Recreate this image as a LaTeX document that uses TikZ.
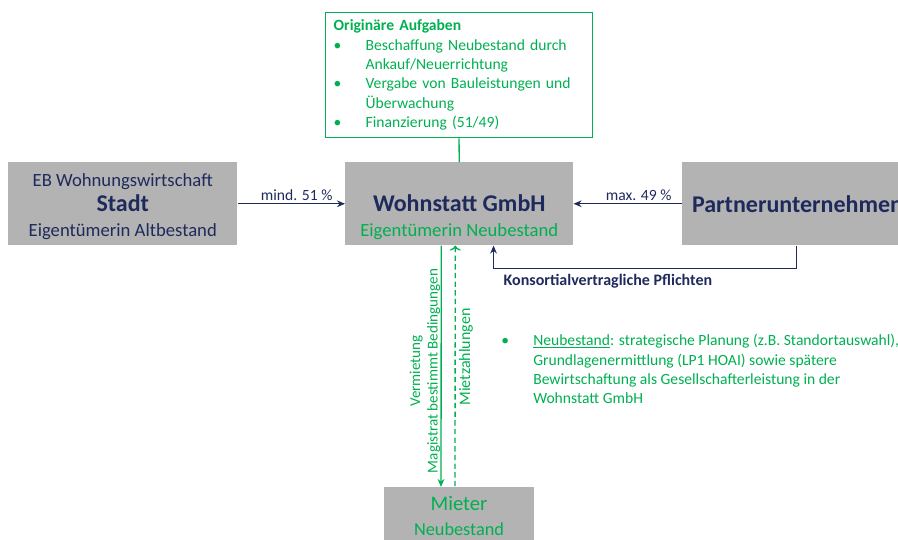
\documentclass[tikz,border=0pt]{standalone}
\usepackage{fontspec}
\setmainfont{Carlito}
\usetikzlibrary{arrows.meta, positioning, calc}
\definecolor{navy}{HTML}{1F2A5C}
\definecolor{ogreen}{HTML}{00B050}
\definecolor{boxgray}{HTML}{B3B3B3}
\newcommand{\itm}{\makebox[24pt][l]{\textbullet}}

\begin{document}
\begin{tikzpicture}[
    x=0.75pt, y=-0.75pt,
    box/.style={rectangle, fill=boxgray, inner sep=0pt, minimum height=62.25pt},
    subtext/.style={font=\fontsize{14}{18.75}\selectfont, align=center},
    notetext/.style={font=\fontsize{11.7}{14.5}\selectfont, text=ogreen, align=left},
    flowlabel/.style={font=\fontsize{11.7}{14}\selectfont, text=navy},
    navyarrow/.style={draw=navy, line width=1pt, -{Stealth[length=6pt, width=5pt]}},
    greenarrow/.style={draw=ogreen, line width=1pt, -{Stealth[length=6pt, width=5pt]}}
]
    \clip (0,0) rectangle (898,539);

    % --- Boxes ---
    \node[box, anchor=north west, minimum width=171.75pt] (stadt) at (8,162) {};
    \node[box, anchor=north west, minimum width=171pt] (wohnstatt) at (345,162) {};
    \node[box, anchor=north west, minimum width=171pt] (partner) at (682,162) {};
    \node[box, anchor=north, minimum width=112.5pt] (mieter) at (459,487) {};

    % --- Box Texts ---
    \node[subtext, text=navy] (stadttext) at ([yshift=-1.8pt]stadt.center)
        {EB Wohnungswirtschaft\\{\fontsize{18}{18.75}\selectfont\bfseries Stadt}\\Eigentümerin Altbestand};
    \node[subtext, text=navy] (wohnstatttext) at ([yshift=-10pt]wohnstatt.center)
        {{\fontsize{18}{18.75}\selectfont\bfseries Wohnstatt GmbH}\\\textcolor{ogreen}{Eigentümerin Neubestand}};
    \node[anchor=west, text=navy, font=\fontsize{18}{20}\selectfont\bfseries] (partnertext)
        at ([xshift=4pt]partner.west) {Partnerunternehmen};
    \node[subtext, text=ogreen] (mietertext) at ([yshift=-21.8pt]mieter.north)
        {{\fontsize{15.5}{17}\selectfont Mieter}\\{\fontsize{13.7}{17}\selectfont Neubestand}};

    % --- Originaere Aufgaben ---
    \node[notetext, draw=ogreen, line width=1pt, anchor=north west, inner xsep=6pt,
        text width=188pt, minimum height=93.75pt] (aufgaben) at (325,12)
        {\textbf{Originäre Aufgaben}\\
         \itm Beschaffung Neubestand durch\\
         \hspace*{24pt}Ankauf/Neuerrichtung\\
         \itm Vergabe von Bauleistungen und\\
         \hspace*{24pt}Überwachung\\
         \itm Finanzierung (51/49)};
    \draw[ogreen, line width=1pt] (aufgaben.south) -- (wohnstatt.north);

    % --- Shares ---
    \draw[navyarrow] (stadt) -- node[flowlabel, pos=0.55, above, inner sep=1.5pt] {mind. 51 \%} (wohnstatt);
    \draw[navyarrow] (partner) -- node[flowlabel, pos=0.4, above, inner sep=1.5pt] {max. 49 \%} (wohnstatt);
    \draw[navyarrow] (partner.south) -- ++(0,23) -| ($(wohnstatt.south west)!0.65!(wohnstatt.south east)$);
    \node[flowlabel, font=\fontsize{12}{14}\selectfont\bfseries, anchor=west] (pflichten) at (499,281)
        {Konsortialvertragliche Pflichten};

    % --- Mieter ---
    \draw[greenarrow] ([xshift=-13.5pt]wohnstatt.south) -- ([xshift=-13.5pt]mieter.north);
    \draw[greenarrow, dash pattern=on 4pt off 2.5pt, <-] ([xshift=-3pt]wohnstatt.south) -- ([xshift=-3pt]mieter.north);
    \node[rotate=90, align=center, text=ogreen, font=\fontsize{11.3}{13.2}\selectfont] (vermietung)
        at (425,371) {Vermietung\\Magistrat bestimmt Bedingungen};
    \node[rotate=90, text=ogreen, font=\fontsize{12}{13.5}\selectfont] (mietzahlungen)
        at (466,357) {Mietzahlungen};

    % --- Neubestand Note ---
    \node[notetext, anchor=north west, inner sep=0pt] (neubestand) at (501,334)
        {\itm\underline{Neubestand}: strategische Planung (z.B. Standortauswahl),\\
         \hspace*{24pt}Grundlagenermittlung (LP1 HOAI) sowie spätere\\
         \hspace*{24pt}Bewirtschaftung als Gesellschafterleistung in der\\
         \hspace*{24pt}Wohnstatt GmbH};

\end{tikzpicture}
\end{document}
